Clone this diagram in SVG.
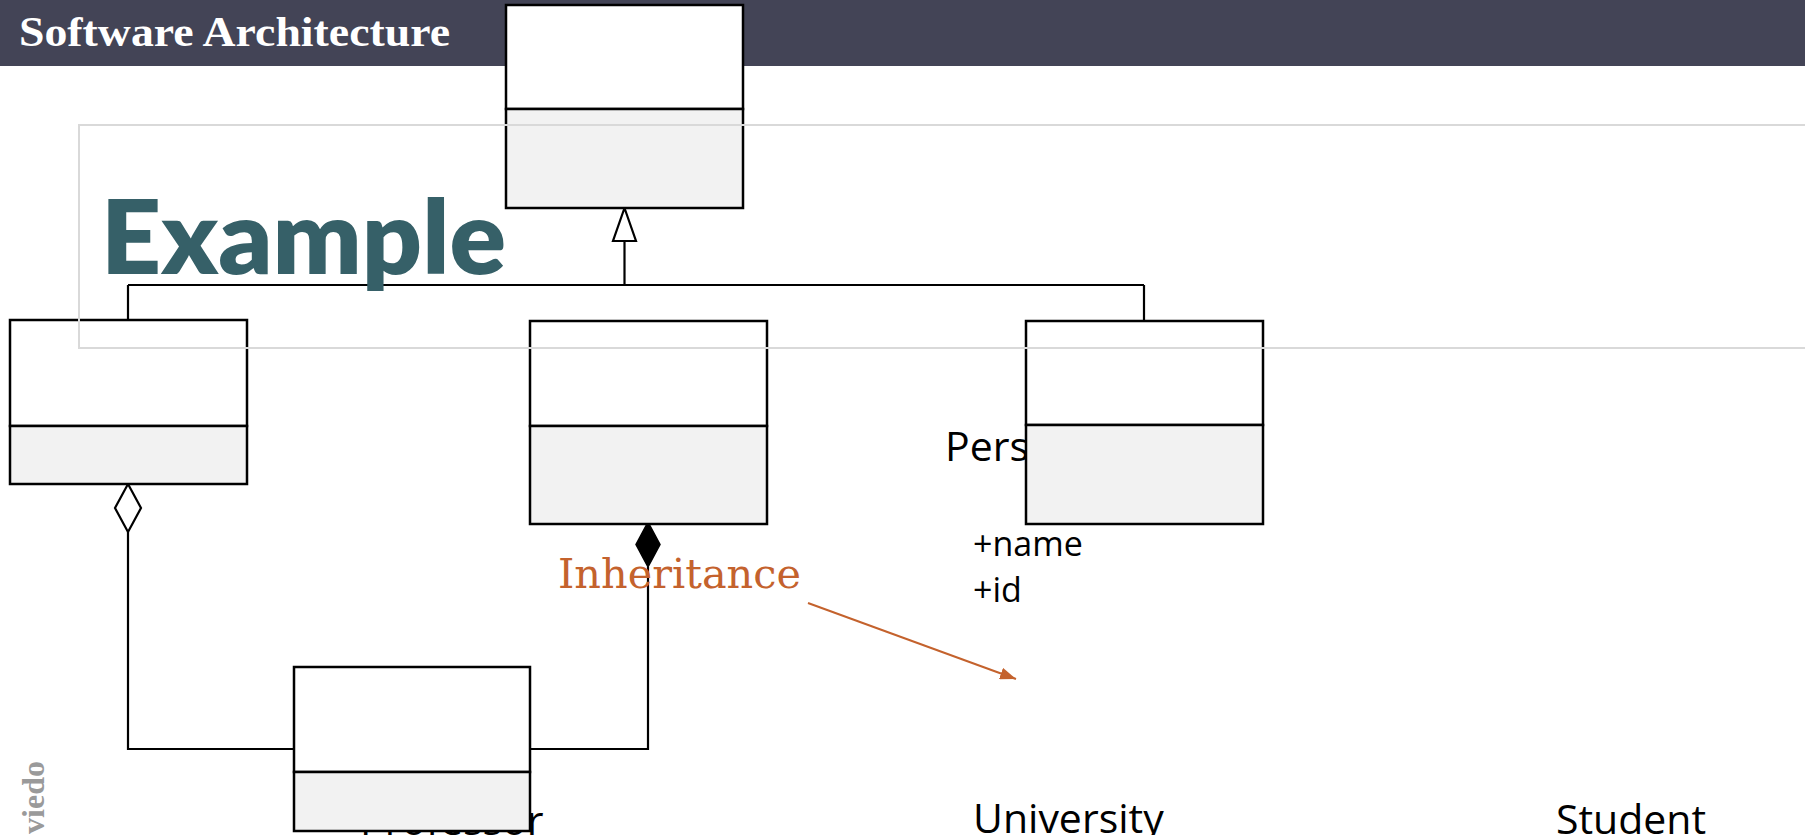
<svg xmlns="http://www.w3.org/2000/svg" width="1805" height="835" viewBox="0 0 1805 835">
  <style>
    .hdr { fill: #434456; }
    .title { font-family: "Liberation Serif", "Times New Roman", serif; font-weight: 700; font-size: 42px; fill: #ffffff; }
    .cls { font-family: "Open Sans", "Noto Sans", sans-serif; font-size: 41px; fill: #000000; }
    .attr { font-family: "Open Sans", "Noto Sans", sans-serif; font-size: 34px; fill: #000000; }
    .head { fill: #ffffff; stroke: #000000; stroke-width: 2.5; }
    .body { fill: #f2f2f2; stroke: #000000; stroke-width: 2.5; }
    .conn { fill: none; stroke: #000000; stroke-width: 2.2; }
    .frame { fill: none; stroke: #d9d9d9; stroke-width: 2; }
    .example { font-family: Lato, "Open Sans", sans-serif; font-weight: 800; font-size: 102px; fill: #366068; }
    .note { font-family: "DejaVu Serif", "Liberation Serif", serif; font-size: 41px; fill: #c4622d; }
    .side { font-family: "Liberation Serif", serif; font-weight: 700; font-size: 32px; fill: #9a9a9a; }
  </style>
  <defs>
    <marker id="orangeArrow" markerUnits="userSpaceOnUse" markerWidth="16" markerHeight="12" refX="16" refY="6" orient="auto">
      <path d="M0,0 L16,6 L0,12 z" fill="#c4622d"/>
    </marker>
  </defs>

  <rect class="hdr" x="0" y="0" width="1805" height="66"/>
  <text class="title" x="19" y="46" textLength="431" lengthAdjust="spacingAndGlyphs">Software Architecture</text>

  <!-- class names and attributes (partly hidden behind boxes) -->
  <text class="cls" x="945" y="461">Person</text>
  <text class="cls" x="360" y="835">Professor</text>
  <text class="cls" x="973" y="833">University</text>
  <text class="cls" x="1556" y="834">Student</text>
  <text class="attr" x="973" y="556">+name</text>
  <text class="attr" x="973" y="602">+id</text>

  <g id="connectors">
    <path class="conn" d="M624.5,241 V285 M128,285 H1144 M128,285 V320 M1144,285 V321"/>
    <polygon points="624.5,208 636,241 613,241" fill="#ffffff" stroke="#000000" stroke-width="2.2"/>
    <path class="conn" d="M128,532 V749 H294"/>
    <polygon points="128,484 141,508 128,532 115,508" fill="#ffffff" stroke="#000000" stroke-width="2.2"/>
    <path class="conn" d="M530,749 H648 V567"/>
    <polygon points="648,522 660,544.5 648,567 636,544.5" fill="#000000" stroke="#000000" stroke-width="1.5"/>
  </g>

  <g id="node-top">
    <rect class="head" x="506" y="5" width="237" height="104"/>
    <rect class="body" x="506" y="109" width="237" height="99"/>
  </g>
  <g id="node-left">
    <rect class="head" x="10" y="320" width="237" height="106"/>
    <rect class="body" x="10" y="426" width="237" height="58"/>
  </g>
  <g id="node-middle">
    <rect class="head" x="530" y="321" width="237" height="105"/>
    <rect class="body" x="530" y="426" width="237" height="98"/>
  </g>
  <g id="node-right">
    <rect class="head" x="1026" y="321" width="237" height="104"/>
    <rect class="body" x="1026" y="425" width="237" height="99"/>
  </g>
  <g id="node-bottom">
    <rect class="head" x="294" y="667" width="236" height="105"/>
    <rect class="body" x="294" y="772" width="236" height="59"/>
  </g>

  <rect class="frame" x="79" y="125" width="1740" height="223"/>
  <text class="example" x="101" y="274" textLength="405" lengthAdjust="spacingAndGlyphs">Example</text>

  <g id="inheritance-note">
    <text class="note" x="558" y="588" textLength="243" lengthAdjust="spacingAndGlyphs">Inheritance</text>
    <line x1="808" y1="603" x2="1016" y2="679" stroke="#c4622d" stroke-width="2" marker-end="url(#orangeArrow)"/>
  </g>

  <text class="side" transform="translate(44,761) rotate(-90)" text-anchor="end">viedo</text>
</svg>
